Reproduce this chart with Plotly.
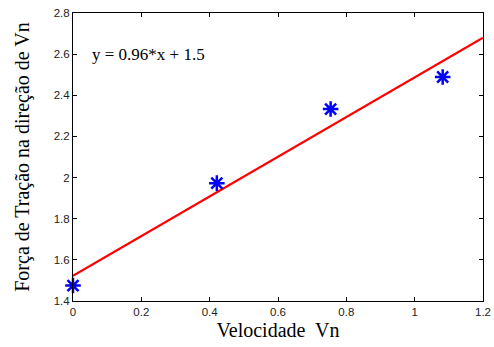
import plotly.graph_objects as go

vel = [0.0, 0.421, 0.754, 1.082]
forca = [1.475, 1.973, 2.333, 2.489]
fit_x = [0.0, 1.2]
fit_y = [1.523, 2.68]
xticks = [0, 0.2, 0.4, 0.6, 0.8, 1, 1.2]
yticks = [1.4, 1.6, 1.8, 2, 2.2, 2.4, 2.6, 2.8]

fig = go.Figure()
fig.add_trace(go.Scatter(x=fit_x, y=fit_y, mode="lines", cliponaxis=False,
                         line=dict(color="#ff0000", width=2.2), showlegend=False))
fig.add_trace(go.Scatter(x=vel, y=forca, mode="markers", cliponaxis=False,
                         marker=dict(symbol="asterisk-open", size=13, color="#0000ff",
                                     line=dict(color="#0000ff", width=2.5)),
                         showlegend=False))

axis_common = dict(showgrid=False, zeroline=False, showline=True, linecolor="black",
                   linewidth=1, mirror="ticks", ticks="inside", ticklen=4,
                   tickcolor="black", automargin=False,
                   tickfont=dict(family="Liberation Sans, Arial", size=11.5, color="#222222"))

fig.update_xaxes(range=[0, 1.2], tickvals=xticks, ticktext=[str(t) for t in xticks],
                 title=dict(text="Velocidade  Vn", standoff=6,
                            font=dict(family="Liberation Serif, Times New Roman", size=20, color="black")),
                 **axis_common)
fig.update_yaxes(range=[1.4, 2.8], tickvals=yticks, ticktext=[str(t) for t in yticks],
                 title=dict(text="Força de Tração na direção de Vn", standoff=18,
                            font=dict(family="Liberation Serif, Times New Roman", size=20, color="black")),
                 **axis_common)

fig.add_annotation(x=0.05, y=2.6, xref="x", yref="y", text="y = 0.96*x + 1.5",
                   showarrow=False, xanchor="left", yanchor="middle",
                   font=dict(family="Liberation Serif, Times New Roman", size=17, color="black"))

fig.update_layout(width=494, height=347, margin=dict(l=73, r=11, t=13, b=46),
                  paper_bgcolor="white", plot_bgcolor="white")
fig.write_html("out.html")
